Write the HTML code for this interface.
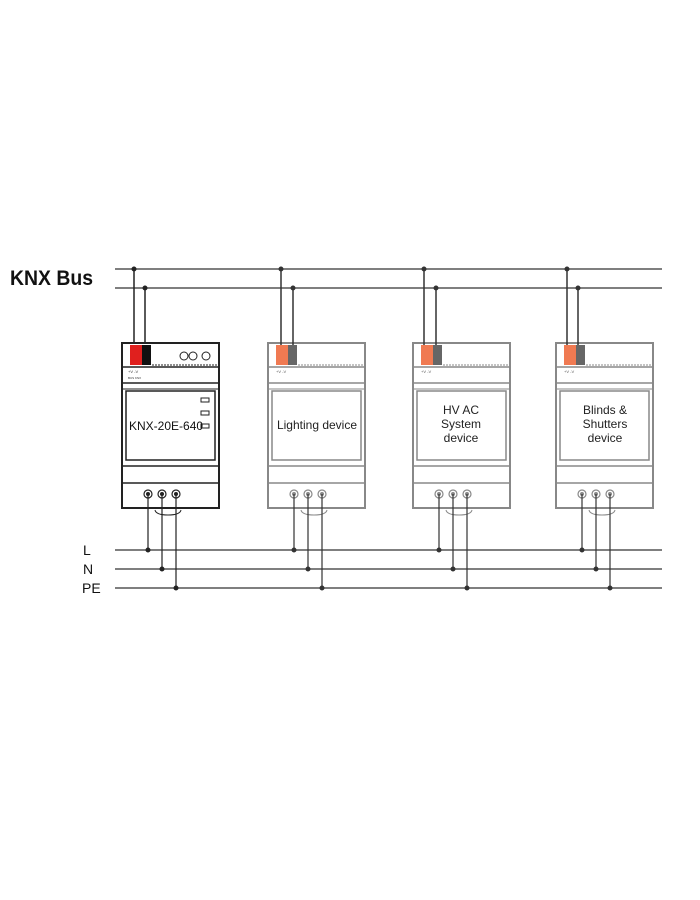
<!DOCTYPE html>
<html><head><meta charset="utf-8"><style>
html,body{margin:0;padding:0;background:#fff;}
svg{display:block;}
text{font-family:"Liberation Sans",sans-serif;}
</style></head><body>
<svg width="700" height="900" viewBox="0 0 700 900" xmlns="http://www.w3.org/2000/svg">
<defs>
<g id="dev">
  <rect x="0" y="0" width="97" height="165" fill="#fff" stroke-width="2"/>
  <line x1="30" y1="22" x2="97" y2="22" stroke-width="1" stroke-dasharray="2,1"/>
  <line x1="0" y1="24" x2="97" y2="24" stroke-width="1.5"/>
  <line x1="0" y1="40" x2="97" y2="40" stroke-width="1.5"/>
  <line x1="0" y1="46" x2="97" y2="46" stroke-width="1"/>
  <rect x="4" y="48" width="89" height="69" fill="none" stroke-width="1.5"/>
  <line x1="0" y1="123" x2="97" y2="123" stroke-width="1.5"/>
  <line x1="0" y1="140" x2="97" y2="140" stroke-width="1.5"/>
  <circle cx="26" cy="151" r="4" fill="none" stroke-width="1.2"/>
  <circle cx="40" cy="151" r="4" fill="none" stroke-width="1.2"/>
  <circle cx="54" cy="151" r="4" fill="none" stroke-width="1.2"/>
  <circle cx="26" cy="151" r="1.5"/>
  <circle cx="40" cy="151" r="1.5"/>
  <circle cx="54" cy="151" r="1.5"/>
  <path d="M33 167 Q34 172 46 172 Q58 172 59 167" fill="none" stroke-width="1"/>
</g>
</defs>

<text x="10" y="285" font-size="21" font-weight="bold" fill="#111" textLength="83" lengthAdjust="spacingAndGlyphs">KNX Bus</text>
<line x1="115" y1="269" x2="662" y2="269" stroke="#555" stroke-width="1.5"/>
<line x1="115" y1="288" x2="662" y2="288" stroke="#555" stroke-width="1.5"/>

<text x="83" y="555" font-size="14" fill="#111">L</text>
<text x="83" y="574" font-size="14" fill="#111">N</text>
<text x="82" y="593" font-size="14" fill="#111">PE</text>
<line x1="115" y1="550" x2="662" y2="550" stroke="#555" stroke-width="1.5"/>
<line x1="115" y1="569" x2="662" y2="569" stroke="#555" stroke-width="1.5"/>
<line x1="115" y1="588" x2="662" y2="588" stroke="#555" stroke-width="1.5"/>

<!-- device 1 -->
<g stroke="#222" fill="#222">
  <line x1="134" y1="269" x2="134" y2="345" stroke-width="1.5"/>
  <line x1="145" y1="288" x2="145" y2="345" stroke-width="1.5"/>
  <g transform="translate(122,343)"><use href="#dev"/></g>
  <rect x="130" y="345" width="12" height="20" fill="#e0201e" stroke="none"/>
  <rect x="142" y="345" width="9" height="20" fill="#111" stroke="none"/>
  <circle cx="184" cy="356" r="4" fill="none" stroke-width="1"/>
  <circle cx="193" cy="356" r="4" fill="none" stroke-width="1"/>
  <circle cx="206" cy="356" r="4" fill="none" stroke-width="1"/>
  <rect x="201" y="398" width="8" height="4" fill="none" stroke-width="1"/>
  <rect x="201" y="411" width="8" height="4" fill="none" stroke-width="1"/>
  <rect x="201" y="424" width="8" height="4" fill="none" stroke-width="1"/>
  <line x1="148" y1="494" x2="148" y2="550" stroke-width="1.2"/>
  <line x1="162" y1="494" x2="162" y2="569" stroke-width="1.2"/>
  <line x1="176" y1="494" x2="176" y2="588" stroke-width="1.2"/>
  <circle cx="148" cy="550" r="2"/><circle cx="162" cy="569" r="2"/><circle cx="176" cy="588" r="2"/>
  <circle cx="134" cy="269" r="2"/><circle cx="145" cy="288" r="2"/>
</g>
<text x="129" y="430" font-size="12" fill="#111">KNX-20E-640</text>
<text x="128" y="373" font-size="4" fill="#333">+V  -V</text>
<text x="128" y="379" font-size="3" fill="#333">BUS  KNX</text>

<!-- grey devices -->
<g stroke="#888" fill="#888">
  <g transform="translate(268,343)"><use href="#dev"/></g>
  <g transform="translate(413,343)"><use href="#dev"/></g>
  <g transform="translate(556,343)"><use href="#dev"/></g>
</g>
<g fill="#f07a52" stroke="none">
  <rect x="276" y="345" width="12" height="20"/><rect x="421" y="345" width="12" height="20"/><rect x="564" y="345" width="12" height="20"/>
</g>
<g fill="#666" stroke="none">
  <rect x="288" y="345" width="9" height="20"/><rect x="433" y="345" width="9" height="20"/><rect x="576" y="345" width="9" height="20"/>
</g>
<g stroke="#333" fill="#333">
  <line x1="281" y1="269" x2="281" y2="345" stroke-width="1.5"/>
  <line x1="293" y1="288" x2="293" y2="345" stroke-width="1.5"/>
  <line x1="424" y1="269" x2="424" y2="345" stroke-width="1.5"/>
  <line x1="436" y1="288" x2="436" y2="345" stroke-width="1.5"/>
  <line x1="567" y1="269" x2="567" y2="345" stroke-width="1.5"/>
  <line x1="578" y1="288" x2="578" y2="345" stroke-width="1.5"/>
  <circle cx="281" cy="269" r="2"/><circle cx="293" cy="288" r="2"/>
  <circle cx="424" cy="269" r="2"/><circle cx="436" cy="288" r="2"/>
  <circle cx="567" cy="269" r="2"/><circle cx="578" cy="288" r="2"/>

  <line x1="294" y1="494" x2="294" y2="550" stroke-width="1.2"/>
  <line x1="308" y1="494" x2="308" y2="569" stroke-width="1.2"/>
  <line x1="322" y1="494" x2="322" y2="588" stroke-width="1.2"/>
  <line x1="439" y1="494" x2="439" y2="550" stroke-width="1.2"/>
  <line x1="453" y1="494" x2="453" y2="569" stroke-width="1.2"/>
  <line x1="467" y1="494" x2="467" y2="588" stroke-width="1.2"/>
  <line x1="582" y1="494" x2="582" y2="550" stroke-width="1.2"/>
  <line x1="596" y1="494" x2="596" y2="569" stroke-width="1.2"/>
  <line x1="610" y1="494" x2="610" y2="588" stroke-width="1.2"/>
  <circle cx="294" cy="550" r="2"/><circle cx="308" cy="569" r="2"/><circle cx="322" cy="588" r="2"/>
  <circle cx="439" cy="550" r="2"/><circle cx="453" cy="569" r="2"/><circle cx="467" cy="588" r="2"/>
  <circle cx="582" cy="550" r="2"/><circle cx="596" cy="569" r="2"/><circle cx="610" cy="588" r="2"/>
</g>
<g font-size="4" fill="#555">
  <text x="276" y="373">+V  -V</text><text x="421" y="373">+V  -V</text><text x="564" y="373">+V  -V</text>
</g>
<g font-size="12" fill="#222" text-anchor="middle">
  <text x="317" y="429">Lighting device</text>
  <text x="461" y="414">HV AC</text><text x="461" y="428">System</text><text x="461" y="442">device</text>
  <text x="605" y="414">Blinds &amp;</text><text x="605" y="428">Shutters</text><text x="605" y="442">device</text>
</g>
</svg>
</body></html>
